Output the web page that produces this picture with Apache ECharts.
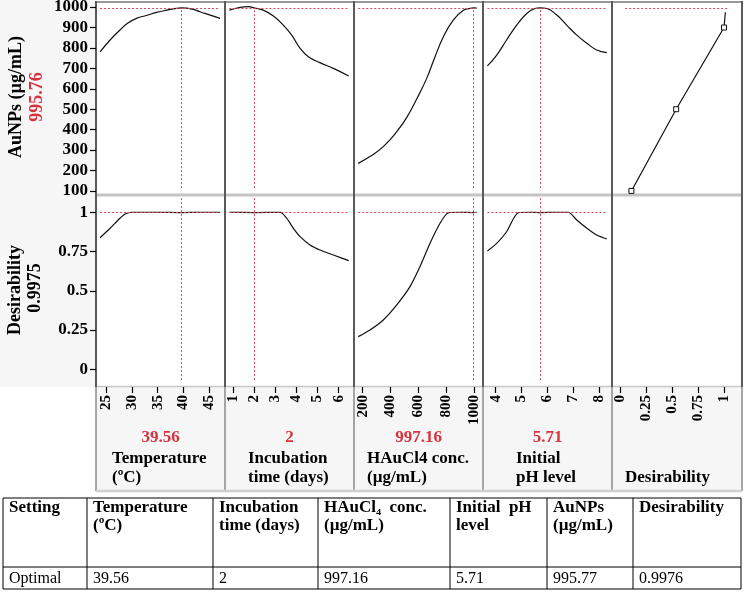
<!DOCTYPE html>
<html>
<head>
<meta charset="utf-8">
<script src="https://cdn.jsdelivr.net/npm/echarts@6/dist/echarts.min.js"></script>
<style>
html,body{margin:0;padding:0;background:#fff;}
#wrap{position:relative;width:749px;height:592px;background:#fff;}
.bg{position:absolute;background:#f6f6f6;}
#c{position:absolute;left:0;top:0;width:749px;height:592px;}
</style>
</head>
<body>
<div id="wrap">
<div class="bg" style="left:0;top:0;width:96px;height:387px;"></div>
<div class="bg" style="left:96px;top:387px;width:646px;height:104px;"></div>
<div id="c"></div>
</div>
<script>
// ---------- data ----------
const factorNames1 = ['Temperature', 'Incubation', 'HAuCl4 conc.', 'Initial', ''];
const factorNames2 = ['(ºC)', 'time (days)', '(µg/mL)', 'pH level', 'Desirability'];
const optimalSettings = [39.56, 2, 997.16, 5.71];
const optimalLabels = ['39.56', '2', '997.16', '5.71'];
const predAuNPs = 995.76;
const predDesirability = 0.9975;

const tempTicks = [25, 30, 35, 40, 45];
const incTicks = [1, 2, 3, 4, 5, 6];
const concTicks = [200, 400, 600, 800, 1000];
const phTicks = [4, 5, 6, 7, 8];
const desXTicks = [0, 0.25, 0.5, 0.75, 1];
const auTicks = [100, 200, 300, 400, 500, 600, 700, 800, 900, 1000];
const desYTicks = [0, 0.25, 0.5, 0.75, 1];

// AuNPs profiles
const tempX  = [23.84, 25.78, 27.7, 29.3, 30.9, 32.8, 34.8, 36.8, 38.7, 39.56, 40.6, 41.9, 43.2, 45.2, 47.1];
const tempAu = [781, 839, 888, 923, 945, 959, 974, 985, 994, 995.8, 995, 989, 977, 961, 945];
const incX   = [0.81, 1.32, 1.71, 2.0, 2.42, 2.9, 3.37, 3.77, 4.17, 4.56, 5.11, 5.75, 6.48];
const incAu  = [985, 999, 1002, 995.8, 985, 956, 912, 863, 798, 757, 728, 700, 663];
const concX  = [168, 252, 348, 445, 517, 588, 660, 720, 780, 852, 924, 984, 997.16, 1020];
const concAu = [235, 268, 317, 390, 460, 550, 651, 757, 855, 937, 985, 995, 995.8, 995];
const phX    = [3.68, 4.04, 4.42, 4.81, 5.2, 5.52, 5.71, 5.97, 6.36, 6.74, 7.13, 7.52, 7.9, 8.29];
const phAu   = [712, 765, 839, 912, 969, 993, 995.8, 993, 961, 912, 863, 823, 790, 777];

// Desirability profiles
const tempDX = [23.84, 25.78, 27.7, 28.7, 30.0, 35, 39.56, 43, 47.1];
const tempD  = [0.838, 0.898, 0.962, 0.989, 1.0, 1.0, 0.998, 1.0, 1.0];
const incDX  = [0.81, 2.0, 3.22, 3.53, 3.85, 4.17, 4.64, 5.11, 5.75, 6.48];
const incD   = [1.0, 0.998, 1.0, 0.962, 0.898, 0.845, 0.792, 0.76, 0.728, 0.692];
const concDX = [168, 252, 348, 445, 540, 612, 684, 756, 816, 900, 997.16, 1020];
const concD  = [0.208, 0.25, 0.314, 0.41, 0.526, 0.654, 0.803, 0.93, 0.997, 1.0, 0.998, 1.0];
const phDX   = [3.68, 4.04, 4.42, 4.87, 5.3, 5.71, 6.3, 6.8, 7.13, 7.52, 7.9, 8.29];
const phD    = [0.753, 0.802, 0.876, 0.997, 1.0, 0.998, 1.0, 1.0, 0.951, 0.898, 0.855, 0.83];

// desirability function (desirability vs AuNPs)
const desFnD  = [0.11, 0.54, 1.0, 1.013];
const desFnAu = [100, 500, 900, 975];
const desLineSpan = [0.05, 1.04];

// table
const tableHead1 = ['Setting', 'Temperature', 'Incubation', 'HAuCl\u2084  conc.', 'Initial  pH', 'AuNPs', 'Desirability'];
const tableHead2 = ['', '(ºC)', 'time (days)', '(µg/mL)', 'level', '(µg/mL)', ''];
const tableRow   = ['Optimal', '39.56', '2', '997.16', '5.71', '995.77', '0.9976'];

// ---------- layout ----------
const FONT = '"Liberation Serif", "Times New Roman", serif';
const RED = '#d8323f';
const REDLINE = '#d64a5c';
const colLeft = [96, 225, 354, 483, 612];
const colW = [129, 129, 129, 129, 130];
const rowTop = [2, 195];
const rowH = [193, 192];
const xRanges = [[23.05, 48.05], [0.6, 6.73], [137.5, 1064.7], [3.51, 8.49], [-0.077, 1.173]];
const yRanges = [[80, 1025], [-0.113, 1.11]];
const xTicks = [tempTicks, incTicks, concTicks, phTicks, desXTicks];
const yTicks = [auTicks, desYTicks];
const topX = [tempX, incX, concX, phX];
const topY = [tempAu, incAu, concAu, phAu];
const botX = [tempDX, incDX, concDX, phDX];
const botY = [tempD, incD, concD, phD];

const zip = (a, b) => a.map((v, i) => [v, b[i]]);
const plain = v => String(v);

const grid = [], xAxis = [], yAxis = [], series = [];
for (let r = 0; r < 2; r++) {
  for (let c = 0; c < 5; c++) {
    const idx = r * 5 + c;
    grid.push({left: colLeft[c], top: rowTop[r], width: colW[c], height: rowH[r],
      containLabel: false, outerBoundsMode: 'none', show: true, backgroundColor: '#fff', borderWidth: 0});
    xAxis.push({
      type: 'value', gridIndex: idx, min: xRanges[c][0], max: xRanges[c][1],
      axisLine: {show: false, onZero: false}, splitLine: {show: false},
      axisTick: {show: r === 1, customValues: xTicks[c], length: 6, lineStyle: {color: '#000', width: 1.2}},
      axisLabel: {show: r === 1, customValues: xTicks[c], rotate: 90, margin: 8, formatter: plain,
        fontFamily: FONT, fontWeight: 'bold', fontSize: 15, color: '#000'}
    });
    yAxis.push({
      type: 'value', gridIndex: idx, min: yRanges[r][0], max: yRanges[r][1],
      axisLine: {show: false, onZero: false}, splitLine: {show: false},
      axisTick: {show: c === 0, customValues: yTicks[r], length: 6, lineStyle: {color: '#000', width: 1.2}},
      axisLabel: {show: c === 0, customValues: yTicks[r], margin: 8, formatter: plain,
        fontFamily: FONT, fontWeight: 'bold', fontSize: 17, color: '#000'}
    });
  }
}

const mlBase = {symbol: ['none', 'none'], silent: true, animation: false, label: {show: false},
  lineStyle: {color: REDLINE, type: [2, 2], width: 1}, emphasis: {disabled: true}};

for (let c = 0; c < 4; c++) {
  const xs = topX[c];
  series.push({
    type: 'line', xAxisIndex: c, yAxisIndex: c, data: zip(xs, topY[c]),
    smooth: 0.45, symbol: 'none', lineStyle: {color: '#111', width: 1.2}, z: 3,
    markLine: Object.assign({}, mlBase, {data: [
      [{coord: [xs[0], predAuNPs]}, {coord: [xs[xs.length - 1], predAuNPs]}],
      [{coord: [optimalSettings[c], 985]}, {coord: [optimalSettings[c], 105]}]
    ]})
  });
  const bx = botX[c];
  series.push({
    type: 'line', xAxisIndex: c + 5, yAxisIndex: c + 5, data: zip(bx, botY[c]),
    smooth: 0.25, symbol: 'none', lineStyle: {color: '#111', width: 1.2}, z: 3,
    markLine: Object.assign({}, mlBase, {data: [
      [{coord: [bx[0], predDesirability]}, {coord: [bx[bx.length - 1], predDesirability]}],
      [{coord: [optimalSettings[c], 1.09]}, {coord: [optimalSettings[c], -0.08]}]
    ]})
  });
}
series.push({
  type: 'line', xAxisIndex: 4, yAxisIndex: 4,
  data: zip(desFnD, desFnAu).map((p, i) => i < 3 ? {value: p} : {value: p, symbol: 'none'}),
  symbol: 'rect', symbolSize: 5, showAllSymbol: true,
  itemStyle: {color: '#fff', borderColor: '#111', borderWidth: 1},
  lineStyle: {color: '#111', width: 1.2}, z: 3,
  markLine: Object.assign({}, mlBase, {data: [
    [{coord: [desLineSpan[0], predAuNPs]}, {coord: [desLineSpan[1], predAuNPs]}]
  ]})
});
series.push({type: 'line', xAxisIndex: 9, yAxisIndex: 9, data: [], symbol: 'none'});

// ---------- graphics: borders, labels, table ----------
const g = [];
const line = (x1, y1, x2, y2, color, w) => g.push({type: 'line', shape: {x1, y1, x2, y2},
  style: {stroke: color, lineWidth: w}, silent: true});
const text = (t, x, y, opts) => g.push(Object.assign({type: 'text', x, y, silent: true,
  style: Object.assign({text: t, font: 'bold 17px ' + FONT, fill: '#000', align: 'left', verticalAlign: 'middle'}, opts.style || {})},
  opts.rotation !== undefined ? {rotation: opts.rotation} : {}));

line(96, 2, 742, 2, '#999', 2);
line(96, 195, 742, 195, '#c4c4c4', 3);
line(96, 386.5, 742, 386.5, '#c8c8c8', 1.5);
[96, 225, 354, 483, 612, 742].forEach(x => {
  line(x, 1, x, 387, '#5a5a5a', 2);
  line(x, 387, x, 491, '#8a8a8a', 1.5);
});
line(96, 491, 742, 491, '#cfcfcf', 2.5);

text('AuNPs (µg/mL)', 16, 97, {rotation: Math.PI / 2, style: {align: 'center', font: 'bold 18px ' + FONT}});
text(predAuNPs.toFixed(2), 37, 97, {rotation: Math.PI / 2, style: {align: 'center', fill: RED, font: 'bold 18px ' + FONT}});
text('Desirability', 15, 290, {rotation: Math.PI / 2, style: {align: 'center', font: 'bold 18px ' + FONT}});
text(String(predDesirability), 35, 288, {rotation: Math.PI / 2, style: {align: 'center', font: 'bold 18px ' + FONT}});

const nameLeft = [112, 248, 367, 516, 625];
for (let c = 0; c < 5; c++) {
  const cx = colLeft[c] + colW[c] / 2;
  if (c < 4) text(optimalLabels[c], cx, 438, {style: {align: 'center', fill: RED}});
  if (factorNames1[c]) text(factorNames1[c], nameLeft[c], 459, {style: {}});
  text(factorNames2[c], nameLeft[c], 478, {style: {}});
}

const tCols = [3, 87, 213, 318, 450, 547, 633, 741];
const tRows = [498, 567, 589];
tRows.forEach(y => line(3, y, 741, y, '#000', 1));
tCols.forEach(x => line(x, 498, x, 589, '#000', 1));
for (let i = 0; i < 7; i++) {
  const x = tCols[i] + 6;
  text(tableHead1[i], x, 508, {style: {}});
  if (tableHead2[i]) text(tableHead2[i], x, 526, {style: {}});
  text(tableRow[i], x, 579, {style: {font: '16px ' + FONT}});
}

const chart = echarts.init(document.getElementById('c'), null, {renderer: 'canvas'});
chart.setOption({animation: false, backgroundColor: 'transparent', grid, xAxis, yAxis, series, graphic: g});
</script>
</body>
</html>
